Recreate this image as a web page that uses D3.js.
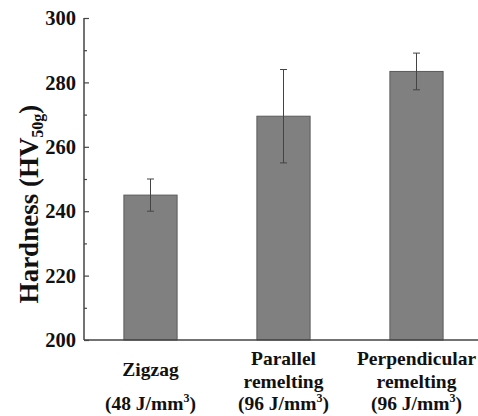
<!DOCTYPE html>
<html>
<head>
<meta charset="utf-8">
<script src="https://cdn.jsdelivr.net/npm/d3@7"></script>
<style>
  body { margin: 0; background: #fff; }
  svg text { font-family: 'Liberation Serif', 'DejaVu Serif', 'Times New Roman', serif; font-weight: bold; fill: #111; }
</style>
</head>
<body>
<svg id="svg" width="478" height="416"></svg>
<script>
const categories = ['Zigzag', 'Parallel', 'Perpendicular'];
const labelLines = [
  ['Zigzag', '', '(48 J/mm³)'],
  ['Parallel', 'remelting', '(96 J/mm³)'],
  ['Perpendicular', 'remelting', '(96 J/mm³)']
];
const hardness = [245, 269.5, 283.4];
const errors = [5, 14.5, 5.7];
const yTicks = [200, 220, 240, 260, 280, 300];
const yMinorTicks = [210, 230, 250, 270, 290];

const svg = d3.select('#svg');
const serif = "'Liberation Serif', 'DejaVu Serif', serif";

const x = d3.scaleBand().domain(categories).range([84, 483]).paddingInner(0.6).paddingOuter(0.3);
const y = d3.scaleLinear().domain([200, 300]).range([340, 18]);

// bars
svg.selectAll('rect.bar')
  .data(hardness)
  .enter()
  .append('rect')
  .attr('class', 'bar')
  .attr('x', (d, i) => x(categories[i]))
  .attr('y', d => y(d))
  .attr('width', x.bandwidth())
  .attr('height', d => y(200) - y(d))
  .attr('fill', '#808080')
  .attr('stroke', '#5a5a5a')
  .attr('stroke-width', 1);

// error bars
const cx = i => x(categories[i]) + x.bandwidth() / 2;
const err = svg.append('g').attr('stroke', '#444').attr('stroke-width', 1);
hardness.forEach((d, i) => {
  const top = y(d + errors[i]);
  const bot = y(d - errors[i]);
  err.append('line').attr('x1', cx(i)).attr('x2', cx(i)).attr('y1', top).attr('y2', bot);
  err.append('line').attr('x1', cx(i) - 3.5).attr('x2', cx(i) + 3.5).attr('y1', top).attr('y2', top);
  err.append('line').attr('x1', cx(i) - 3.5).attr('x2', cx(i) + 3.5).attr('y1', bot).attr('y2', bot);
});

// y axis
const yAxis = svg.append('g')
  .attr('transform', 'translate(84,0)')
  .call(d3.axisRight(y).tickValues(yTicks).tickSize(5).tickFormat(''));
yAxis.select('.domain').attr('stroke', '#444').attr('stroke-width', 1.5).attr('d', `M0,${y(300)}V${y(200)}`);
yAxis.selectAll('.tick line').attr('stroke', '#444').attr('stroke-width', 1.2);

svg.append('g')
  .attr('transform', 'translate(84,0)')
  .call(d3.axisRight(y).tickValues(yMinorTicks).tickSize(3).tickFormat(''))
  .call(g => g.select('.domain').remove())
  .selectAll('.tick line').attr('stroke', '#444').attr('stroke-width', 1.2);

svg.append('g')
  .selectAll('text')
  .data(yTicks)
  .enter()
  .append('text')
  .attr('x', 76)
  .attr('y', d => y(d))
  .attr('dy', '0.35em')
  .attr('text-anchor', 'end')
  .attr('font-family', serif)
  .attr('font-size', 20.5)
  .text(d => d);

// x axis line
svg.append('line')
  .attr('x1', 84).attr('x2', 478)
  .attr('y1', y(200)).attr('y2', y(200))
  .attr('stroke', '#444').attr('stroke-width', 1.5);

// x labels
const lineY = [365, 388, 410];
labelLines.forEach((lines, i) => {
  lines.forEach((t, j) => {
    if (!t) return;
    let yy = lineY[j];
    if (i === 0 && j === 0) yy = 376;
    const txt = svg.append('text')
      .attr('x', cx(i))
      .attr('y', yy)
      .attr('text-anchor', 'middle')
      .attr('font-family', serif)
      .attr('font-size', 19.5);
    if (t.endsWith('mm³)')) {
      txt.append('tspan').text(t.slice(0, -2));
      txt.append('tspan').attr('font-size', 12).attr('dy', -8).text('3');
      txt.append('tspan').attr('dy', 8).text(')');
    } else {
      txt.text(t);
    }
  });
});

// y title
const title = svg.append('text')
  .attr('transform', 'translate(38,204) rotate(-90)')
  .attr('text-anchor', 'middle')
  .attr('font-family', serif)
  .attr('font-size', 27);
title.append('tspan').text('Hardness (HV');
title.append('tspan').attr('font-size', 16).attr('dy', 5).text('50g');
title.append('tspan').attr('dy', -5).text(')');
</script>
</body>
</html>
